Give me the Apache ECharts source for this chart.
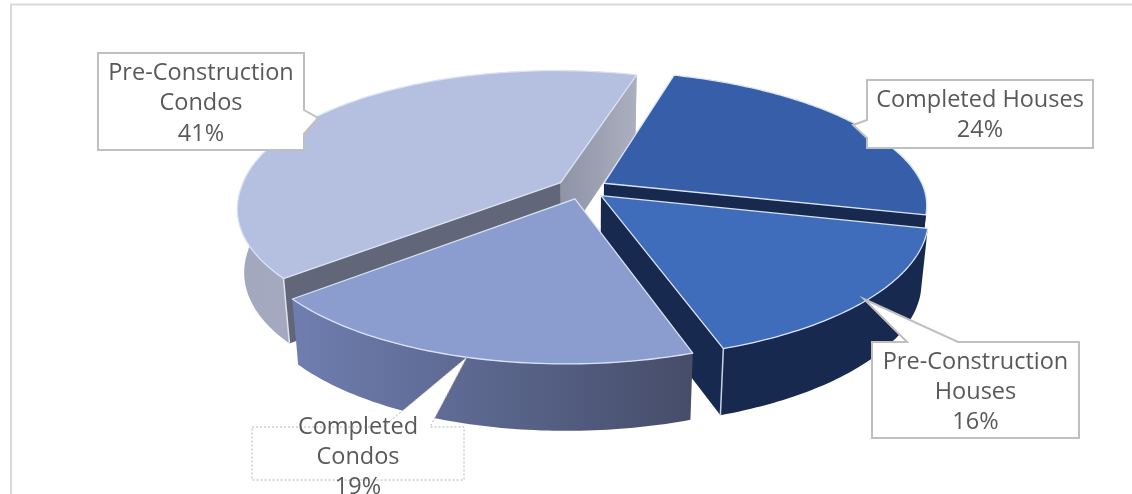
<!DOCTYPE html>
<html>
<head>
<meta charset="utf-8">
<title>Units by type</title>
<style>html,body{margin:0;padding:0;background:#fff}#chart{width:1132px;height:494px}</style>
<script src="https://cdn.jsdelivr.net/npm/echarts@6/dist/echarts.min.js"></script>
</head>
<body>
<div id="chart"></div>
<script>
// Share of units by building type and stage
const categories = ['Completed Houses', 'Pre-Construction Houses', 'Completed Condos', 'Pre-Construction Condos'];
const shares = [24, 16, 19, 41];
const seriesColors = ['#375fa9', '#3f6cbb', '#8b9dcf', '#b5bfdf'];
const outerWallColors = [
  ['#17294f', '#17294f'],
  ['#17294f', '#17294f'],
  ['#6f7eb0', '#464d69'],
  ['#a3a8bf', '#acb1c8']
];
const radialWallColors = [
  ['#17294f', '#17294f'],
  ['#17294f', '#17294f'],
  ['#525a78', '#525a78'],
  ['#8e93a6', '#abafbf']
];
const frontRadialColor = '#616779';

// Projection of the tilted disc onto the canvas
const view = { cx: 582, cy: 188.5, rx: 320, ry: 133, depth: 63, persp: 0.17, bend: 7, explode: 0.08, startDeg: 17, wallTaper: 0.98 };

function project(u, v, drop) {
  const s = 1 / (1 - view.persp * v);
  const x = view.rx * u * s * (drop ? view.wallTaper : 1) - view.bend * Math.pow(Math.abs(v), 1.3);
  return [view.cx + x, view.cy + view.ry * v * s + (drop ? view.depth * Math.pow(s, 0.3) : 0)];
}
function polar(deg) {
  const a = deg * Math.PI / 180;
  return [Math.sin(a), -Math.cos(a)];
}
const total = shares.reduce((a, b) => a + b, 0);
function sliceGeometry(i) {
  const before = shares.slice(0, i).reduce((a, b) => a + b, 0);
  const from = view.startDeg + before / total * 360;
  const to = from + shares[i] / total * 360;
  const mid = polar((from + to) / 2);
  const ou = mid[0] * view.explode, ov = mid[1] * view.explode;
  const rim = [];
  const steps = Math.ceil(to - from);
  for (let k = 0; k <= steps; k++) {
    const p = polar(from + (to - from) * k / steps);
    rim.push([p[0] + ou, p[1] + ov]);
  }
  return { apex: [ou, ov], rim };
}
const map = (pts, drop) => pts.map(p => project(p[0], p[1], drop));
const sideways = (pair) => new echarts.graphic.LinearGradient(0, 0, 1, 0, [
  { offset: 0, color: pair[0] }, { offset: 1, color: pair[1] }
]);

function renderSlice(params, api) {
  const i = api.value(0);
  const g = sliceGeometry(i);
  const topRim = map(g.rim, false), lowRim = map(g.rim, true);
  const apexT = project(g.apex[0], g.apex[1], false), apexB = project(g.apex[0], g.apex[1], true);
  const endT = topRim[topRim.length - 1], endB = lowRim[lowRim.length - 1];
  const children = [];

  // outer curved wall first, radial walls over it
  children.push({
    type: 'polygon',
    shape: { points: topRim.concat(lowRim.slice().reverse()) },
    style: { fill: sideways(outerWallColors[i]) }
  });
  // a radial wall only shows when it turns toward the viewer
  if (endT[0] > apexT[0]) {
    children.push({ type: 'polygon', shape: { points: [apexT, endT, endB, apexB] }, style: { fill: sideways(radialWallColors[i]) } });
  }
  if (topRim[0][0] < apexT[0]) {
    children.push({ type: 'polygon', shape: { points: [apexT, topRim[0], lowRim[0], apexB] }, style: { fill: frontRadialColor } });
  }
  // lit vertical edge where the front wall meets a radial wall
  if (i === 1) {
    children.push({ type: 'line', shape: { x1: endT[0], y1: endT[1], x2: endB[0], y2: endB[1] }, style: { stroke: '#c6d2e8', lineWidth: 1.5 } });
  }
  if (i === 3) {
    children.push({ type: 'line', shape: { x1: topRim[0][0], y1: topRim[0][1], x2: lowRim[0][0], y2: lowRim[0][1] }, style: { stroke: '#dfe3ee', lineWidth: 1.5 } });
  }
  children.push({
    type: 'polygon',
    shape: { points: [apexT].concat(topRim) },
    style: { fill: seriesColors[i], stroke: '#dbe4f4', lineWidth: 1.3, lineJoin: 'round' }
  });
  return { type: 'group', children };
}

// Callout boxes: box edges, pointer base and tip, and how the name wraps
const callouts = [
  { box: [867, 80, 226, 68], side: 'left', base: [120, 138], tip: [853, 125], dotted: false, wrap: false, lines: [100, 130] },
  { box: [872, 342, 207, 96], side: 'top', base: [907, 958], tip: [864, 299], dotted: false, wrap: true, lines: [362, 392, 422] },
  { box: [252, 427, 212, 53], side: 'top', base: [383, 430], tip: [467, 357], dotted: true, wrap: true, lines: [427, 457, 487] },
  { box: [98, 53, 206, 97], side: 'right', base: [110, 134], tip: [318, 118], dotted: false, wrap: true, lines: [73, 103, 134] }
];

function calloutOutline(c) {
  const [x, y, w, h] = c.box;
  const r = x + w, b = y + h;
  if (c.side === 'left') return [[x, y], [r, y], [r, b], [x, b], [x, c.base[1]], c.tip, [x, c.base[0]]];
  if (c.side === 'right') return [[x, y], [r, y], [r, c.base[0]], c.tip, [r, c.base[1]], [r, b], [x, b]];
  return [[x, y], [c.base[0], y], c.tip, [c.base[1], y], [r, y], [r, b], [x, b]];
}

function renderCallout(params, api) {
  const i = api.value(0);
  const c = callouts[i];
  const name = c.wrap ? categories[i].replace(' ', '\n') : categories[i];
  const rows = (name + '\n' + shares[i] + '%').split('\n');
  const mid = c.box[0] + c.box[2] / 2;
  const children = [{
    type: 'polygon',
    shape: { points: calloutOutline(c) },
    style: c.dotted
      ? { fill: '#fff', stroke: '#b4b4b4', lineWidth: 1, lineDash: [2, 2] }
      : { fill: '#fff', stroke: '#bfbfbf', lineWidth: 2 }
  }];
  rows.forEach((t, n) => children.push({
    type: 'text',
    style: {
      text: t, x: mid, y: c.lines[n], fill: '#595959',
      font: '23.5px "Open Sans", sans-serif', textAlign: 'center', textVerticalAlign: 'middle'
    }
  }));
  return { type: 'group', children };
}

const chart = echarts.init(document.getElementById('chart'), null, { renderer: 'canvas' });
// Painted back to front so nearer slices cover farther walls
const paintOrder = [3, 0, 1, 2];
chart.setOption({
  animation: false,
  backgroundColor: '#fff',
  tooltip: { show: false },
  graphic: [{
    type: 'polyline',
    silent: true,
    shape: { points: [[11, 494], [11, 4.5], [1132, 4.5]] },
    style: { stroke: '#d9d9d9', lineWidth: 2, fill: null }
  }],
  series: [
    {
      type: 'custom', coordinateSystem: 'none', silent: true, z: 2,
      encode: { value: 0 },
      data: paintOrder.map(i => [i, shares[i]]),
      renderItem: renderSlice
    },
    {
      type: 'custom', coordinateSystem: 'none', silent: true, z: 3,
      encode: { value: 0 },
      data: categories.map((c, i) => [i, shares[i]]),
      renderItem: renderCallout
    }
  ]
});
</script>
</body>
</html>
